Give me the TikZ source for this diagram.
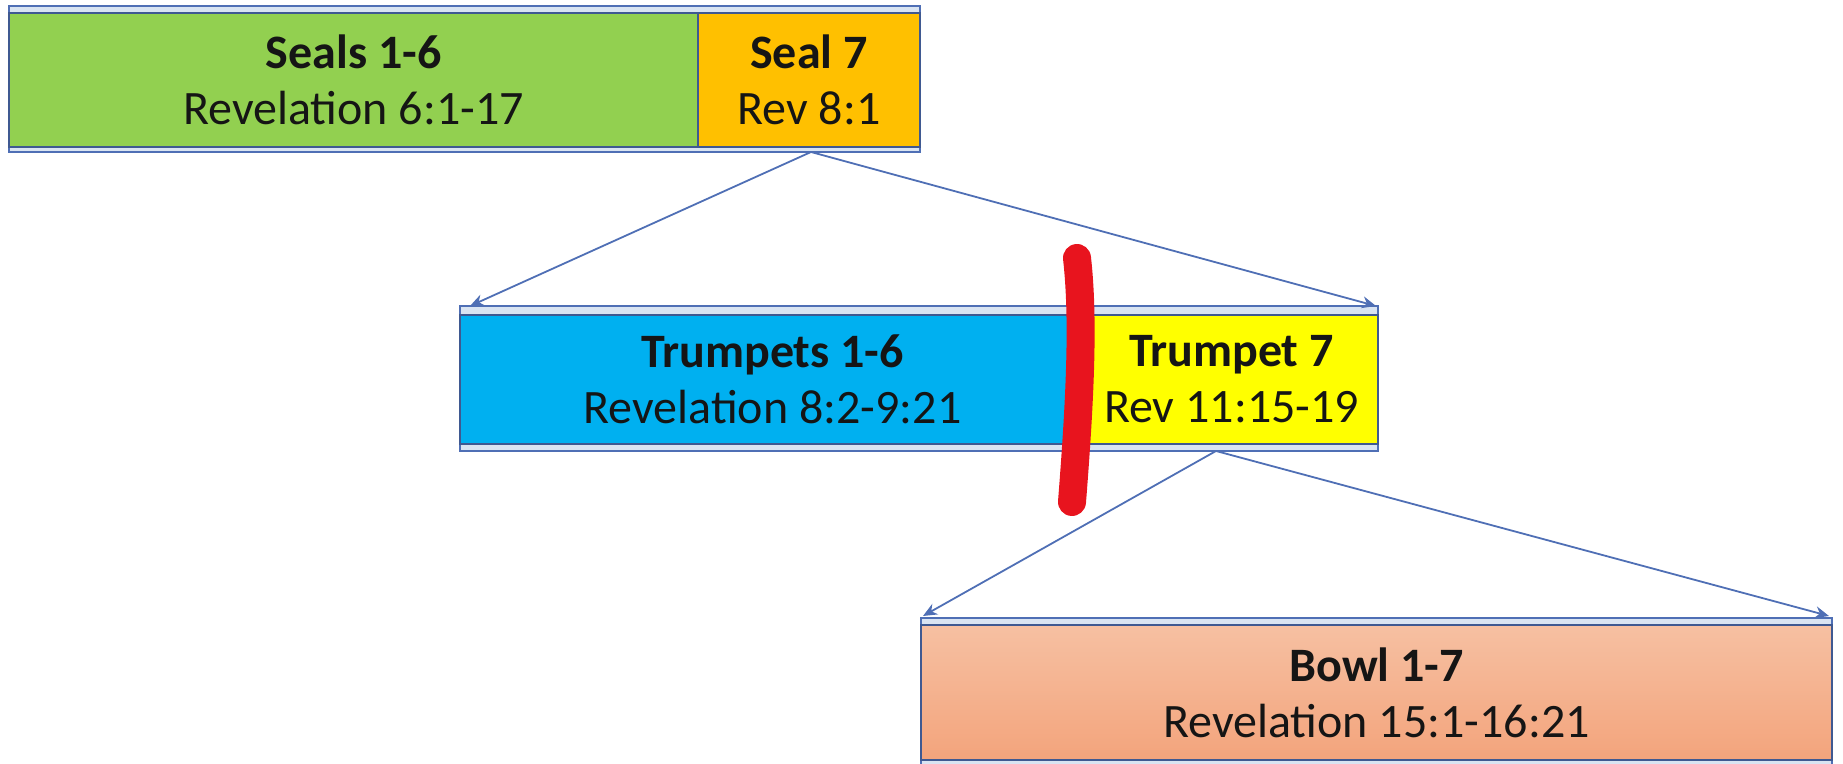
\documentclass[tikz,border=0pt]{standalone}
\usepackage{fontspec}
\setmainfont{Carlito}
\usetikzlibrary{arrows.meta,calc}
\definecolor{bord}{HTML}{4F6FB5}
\definecolor{framefill}{HTML}{D9E4F2}
\definecolor{sealgreen}{HTML}{92D050}
\definecolor{sealorange}{HTML}{FFC000}
\definecolor{trumpblue}{HTML}{00B0F0}
\definecolor{trumpyellow}{HTML}{FFFF00}
\definecolor{bowltop}{HTML}{F6C0A2}
\definecolor{bowlbot}{HTML}{F3A47C}
\definecolor{marker}{HTML}{E8141E}
\definecolor{txt}{HTML}{151515}
\tikzset{
  frame/.style={draw=bord, line width=1.2pt, fill=framefill},
  section/.style={draw=bord!80!black, line width=0.8pt, inner sep=0pt, outer sep=0pt,
    align=center, text=txt, font=\fontsize{24}{28}\selectfont},
  conn/.style={draw=bord, line width=0.9pt, -{Stealth[length=7pt,width=6pt]}},
  redmark/.style={draw=marker, line width=14pt, line cap=round}
}
\begin{document}
\begin{tikzpicture}[x=0.5pt,y=-0.5pt]
\useasboundingbox (0,0) rectangle (1843,764);
% top row
\draw[frame] (9,6) rectangle (920,152);
\node[section, fill=sealgreen, minimum width=344.5pt, minimum height=67pt] (s16) at (353.5,80)
  {\textbf{Seals 1-6}\\Revelation 6:1-17};
\node[section, fill=sealorange, minimum width=111pt, minimum height=67pt] (s7) at (809,80)
  {\textbf{Seal 7}\\Rev 8:1};
% middle row
\draw[frame] (460,306) rectangle (1378,451);
\node[section, fill=trumpblue, minimum width=312.5pt, minimum height=64.5pt] (t16) at (772.5,379.5)
  {\textbf{Trumpets 1-6}\\Revelation 8:2-9:21};
\node[section, fill=trumpyellow, minimum width=146.5pt, minimum height=64.5pt] (t7) at (1231.5,379.5)
  {\textbf{Trumpet 7}\\Rev 11:15-19};
% bottom row
\draw[frame] (921,618) rectangle (1832,770);
\node[section, top color=bowltop, bottom color=bowlbot, minimum width=455.5pt, minimum height=67.5pt] (b17) at (1376.5,692.5)
  {\textbf{Bowl 1-7}\\Revelation 15:1-16:21};
% connector end points
\coordinate (a0) at (811,152);
\coordinate (a1) at (470,306);
\coordinate (a2) at (1376,306);
\coordinate (b0) at (1216,451);
\coordinate (b1) at (923,616);
\coordinate (b2) at (1829,616);
\draw[conn] (a0) -- (a1);
\draw[conn] (a0) -- (a2);
\draw[conn] (b0) -- (b1);
\draw[conn] (b0) -- (b2);
% red hand-drawn mark
\coordinate (m0) at (1077,258);
\coordinate (m1) at (1072,502);
\draw[redmark] (m0) .. controls (1084,320) and (1080,400) .. (m1);
\end{tikzpicture}
\end{document}
